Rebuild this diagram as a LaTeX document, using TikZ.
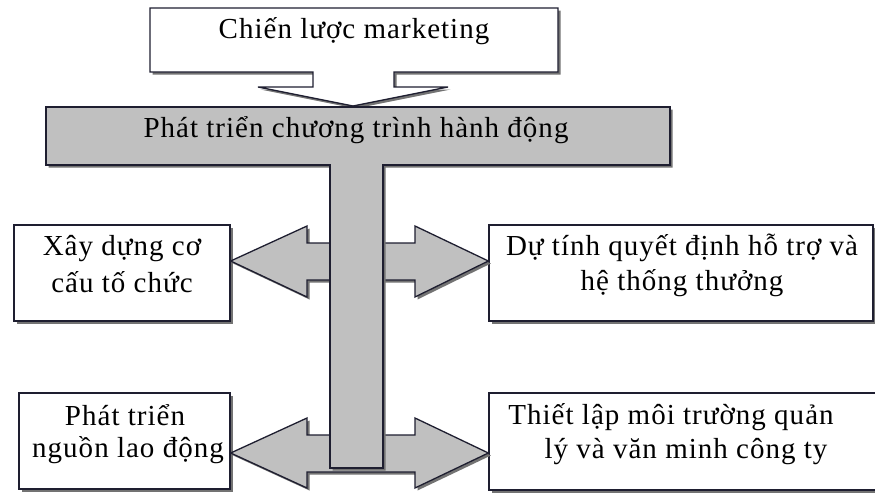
\documentclass[tikz,border=0pt]{standalone}
\usepackage{fontspec}
\setmainfont{Liberation Serif}[LetterSpace=3.5]
\usetikzlibrary{shadows}
\definecolor{edge}{RGB}{30,30,48}
\definecolor{panel}{RGB}{192,192,192}
\definecolor{shade}{RGB}{115,115,115}
\tikzset{
  outline/.style={draw=edge, line width=1.3pt, line join=miter},
  shadowed/.style={drop shadow={shadow xshift=2.5pt, shadow yshift=-2.5pt, fill=shade, opacity=1}},
  whitebox/.style={outline, fill=white, shadowed, rectangle, inner sep=0pt},
  greyshape/.style={outline, fill=panel, shadowed},
  label/.style={font=\fontsize{29}{37}\selectfont, anchor=base, inner sep=0pt},
}
\begin{document}
\begin{tikzpicture}[x=1pt, y=-1pt]
  \clip (0,0) rectangle (875,493);
  \fill[white] (0,0) rectangle (875,493);

  % strategy box with its downward callout
  \filldraw[outline, fill=white, shadowed]
    (150,8) -- (558,8) -- (558,72) -- (394,72) -- (394,87) -- (448,87)
    -- (353,106) -- (258,87) -- (313,87) -- (313,72) -- (150,72) -- cycle;

  % task boxes
  \node[whitebox, minimum width=216pt, minimum height=96pt] (org)    at (122,273) {};
  \node[whitebox, minimum width=211pt, minimum height=96pt] (staff)  at (124.5,441) {};
  \node[whitebox, minimum width=384pt, minimum height=96pt] (reward) at (681,273) {};
  \node[whitebox, minimum width=396pt, minimum height=97pt] (climate) at (687,441.5) {};

  % two-headed block arrows from the stem to the boxes
  \filldraw[greyshape]
    (org.east |- 0,261) -- (307,226) -- (307,243) -- (415,243) -- (415,226)
    -- (reward.west |- 0,261) -- (415,297) -- (415,280) -- (307,280) -- (307,297) -- cycle;
  \filldraw[greyshape]
    (staff.east |- 0,453) -- (307,418) -- (307,435) -- (415,435) -- (415,418)
    -- (climate.west |- 0,453) -- (415,488) -- (415,472) -- (307,472) -- (307,488) -- cycle;

  % action-programme bar with its vertical stem
  \filldraw[greyshape]
    (46,107) -- (670,107) -- (670,165) -- (383,165) -- (383,468)
    -- (330,468) -- (330,165) -- (46,165) -- cycle;

  % texts
  \node[label] (t0)  at (354,38)  {Chiến lược marketing};
  \node[label] (t1)  at (356,137) {Phát triển chương trình hành động};
  \node[label] (t2a) at (122,255) {Xây dựng cơ};
  \node[label] (t2b) at (122,292) {cấu tố chức};
  \node[label] (t3a) at (125,425) {Phát triển};
  \node[label] (t3b) at (128,457) {nguồn lao động};
  \node[label] (t4a) at (682,255) {Dự tính quyết định hỗ trợ và};
  \node[label] (t4b) at (682,290) {hệ thống thưởng};
  \node[label] (t5a) at (671,424) {Thiết lập môi trường quản};
  \node[label] (t5b) at (686,458) {lý và văn minh công ty};
\end{tikzpicture}
\end{document}
